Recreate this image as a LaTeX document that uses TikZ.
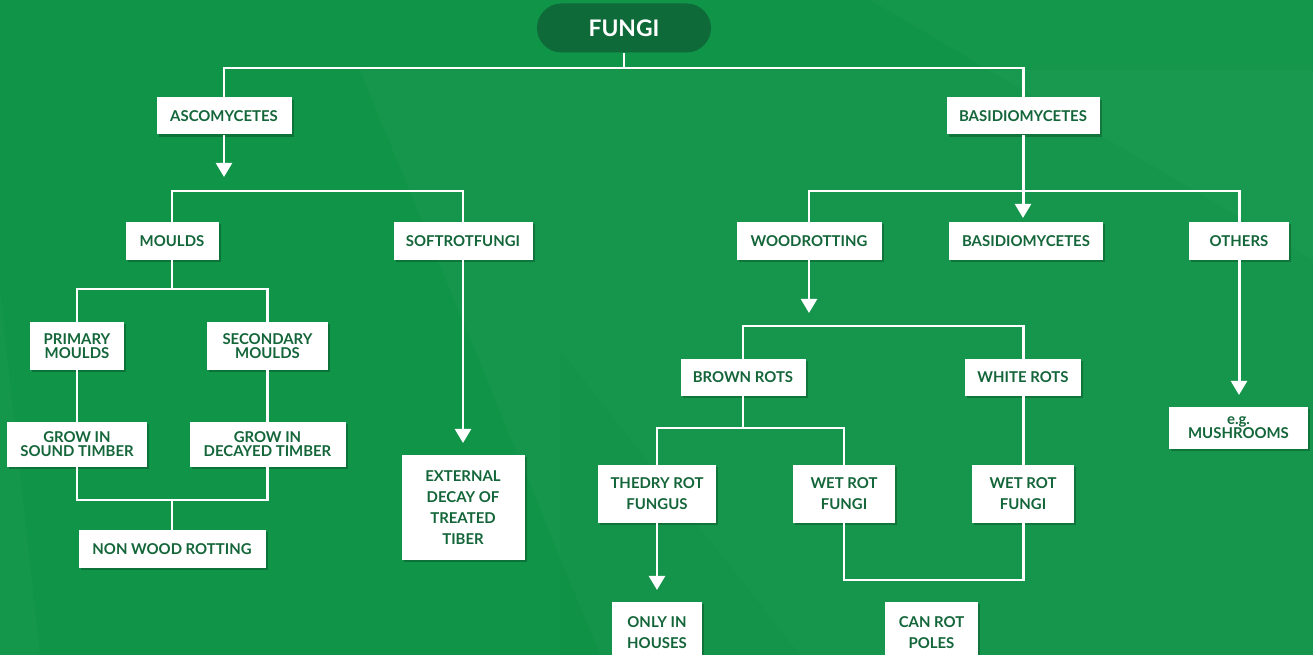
\documentclass[tikz,border=0pt]{standalone}
\usepackage{fontspec}
\setmainfont{Lato}
\usetikzlibrary{arrows.meta,shadows}
\definecolor{bg}{RGB}{16,148,72}
\definecolor{pill}{RGB}{14,106,56}
\definecolor{txt}{RGB}{20,102,58}
\tikzset{
  bx/.style 2 args={draw=none,fill=white,text=txt,align=center,inner sep=0pt,
    minimum width=#1*0.02cm,minimum height=#2*0.02cm,
    font=\fontsize{8.5}{8}\selectfont\bfseries,
    drop shadow={shadow xshift=1.2pt,shadow yshift=-1.2pt,opacity=0.22,fill=black}},
  loose/.style={font=\fontsize{8.5}{12}\selectfont\bfseries},
  wire/.style={draw=white,line width=1.7pt},
  arr/.style={wire,-{Triangle[width=9pt,length=8pt]}},
}
\begin{document}
\begin{tikzpicture}[x=0.02cm,y=-0.02cm]
\useasboundingbox (0,0) rectangle (1313,655);
\clip (0,0) rectangle (1313,655);
\fill[bg] (0,0) rectangle (1313,655);
% faint background facets
\fill[white,opacity=0.025] (360,70) -- (1313,70) -- (1313,655) -- (600,655) -- cycle;
\fill[white,opacity=0.02] (870,0) -- (1313,0) -- (1313,260) -- cycle;
\fill[white,opacity=0.02] (0,290) -- (40,655) -- (0,655) -- cycle;
\fill[black,opacity=0.02] (560,350) -- (800,655) -- (560,655) -- cycle;

% nodes
\node[fill=pill,text=white,rounded corners=0.49cm,minimum width=174*0.02cm,minimum height=49*0.02cm,
  font=\fontsize{13}{13}\selectfont\bfseries] (fungi) at (624,28) {FUNGI};
\node[bx={135}{37}] (asco) at (224,116) {ASCOMYCETES};
\node[bx={153}{37}] (basi) at (1023,116) {BASIDIOMYCETES};
\node[bx={93}{38}] (moulds) at (172,241) {MOULDS};
\node[bx={139}{38}] (soft) at (463,241) {SOFTROTFUNGI};
\node[bx={94}{48}] (prim) at (77,346) {PRIMARY\\MOULDS};
\node[bx={121}{48}] (sec) at (267.5,346) {SECONDARY\\MOULDS};
\node[bx={140}{45}] (gsound) at (77,444.5) {GROW IN\\SOUND TIMBER};
\node[bx={156}{45}] (gdec) at (267.5,444.5) {GROW IN\\DECAYED TIMBER};
\node[bx={187}{38}] (nonwood) at (172,549) {NON WOOD ROTTING};
\node[bx={123}{105},loose] (ext) at (463,507.5) {EXTERNAL\\DECAY OF\\TREATED\\TIBER};
\node[bx={145}{38}] (wood) at (809,241) {WOODROTTING};
\node[bx={154}{38}] (basi2) at (1026,241) {BASIDIOMYCETES};
\node[bx={100}{38}] (others) at (1239,241) {OTHERS};
\node[bx={125}{37}] (brown) at (743,377.5) {BROWN ROTS};
\node[bx={116}{37}] (white) at (1023,377.5) {WHITE ROTS};
\node[bx={118}{58},loose] (thedry) at (657,494) {THEDRY ROT\\FUNGUS};
\node[bx={102}{58},loose] (wet1) at (844,494) {WET ROT\\FUNGI};
\node[bx={102}{58},loose] (wet2) at (1023,494) {WET ROT\\FUNGI};
\node[bx={90}{62},loose] (only) at (657,633) {ONLY IN\\HOUSES};
\node[bx={93}{62},loose] (can) at (931.5,633) {CAN ROT\\POLES};
\node[bx={139}{42}] (mush) at (1238.5,428) {e.g.\\MUSHROOMS};

% junction coordinates
\coordinate (jtop) at (624,68);
\coordinate (ta) at (224,177);
\coordinate (hb) at (300,191);
\coordinate (hm) at (172,289);
\coordinate (hn) at (172,500);
\coordinate (ts) at (463,443);
\coordinate (tb) at (1023,218);
\coordinate (hr) at (1000,191);
\coordinate (tw) at (809,313);
\coordinate (hw) at (900,326);
\coordinate (hbr) at (743,428);
\coordinate (tt) at (657,590);
\coordinate (hwet) at (930,580);
\coordinate (to) at (1239,395);

% connectors (behind boxes)
\begin{scope}[on background layer/.try]
\end{scope}
\draw[wire] (fungi.south) -- (jtop);
\draw[wire] (asco.north) |- (jtop) -| (basi.north);
\draw[arr] (asco.south) -- (ta);
\draw[wire] (moulds.north) |- (hb) -| (soft.north);
\draw[wire] (moulds.south) -- (hm);
\draw[wire] (prim.north) |- (hm) -| (sec.north);
\draw[wire] (prim.south) -- (gsound.north);
\draw[wire] (sec.south) -- (gdec.north);
\draw[wire] (gsound.south) |- (hn) -| (gdec.south);
\draw[wire] (hn) -- (nonwood.north);
\draw[arr] (soft.south) -- (ts);
\draw[arr] (basi.south) -- (tb);
\draw[wire] (wood.north) |- (hr) -| (others.north);
\draw[arr] (wood.south) -- (tw);
\draw[wire] (brown.north) |- (hw) -| (white.north);
\draw[wire] (brown.south) -- (hbr);
\draw[wire] (thedry.north) |- (hbr) -| (wet1.north);
\draw[arr] (thedry.south) -- (tt);
\draw[wire] (wet1.south) |- (hwet) -| (wet2.south);
\draw[wire] (white.south) -- (wet2.north);
\draw[arr] (others.south) -- (to);
\end{tikzpicture}
\end{document}
